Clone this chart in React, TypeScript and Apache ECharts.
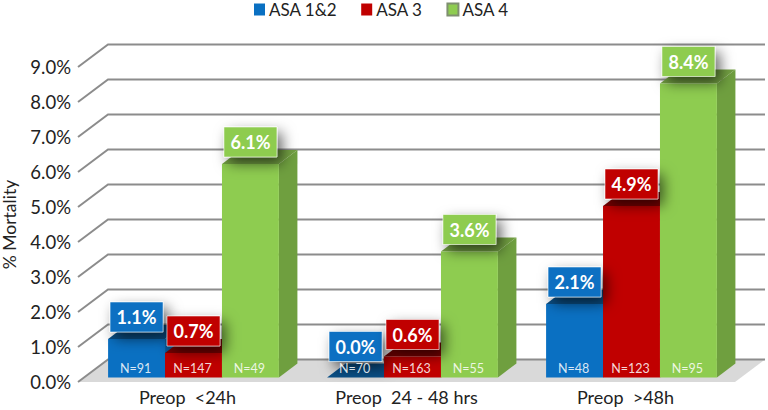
import React, { useEffect, useRef } from "react";
import * as echarts from "echarts";

const categories = ["Preop  <24h", "Preop  24 - 48 hrs", "Preop  >48h"];
const seriesNames = ["ASA 1&2", "ASA 3", "ASA 4"];
const asa12 = [1.1, 0.0, 2.1];
const asa3 = [0.7, 0.6, 4.9];
const asa4 = [6.1, 3.6, 8.4];
const n12 = [91, 70, 48];
const n3 = [147, 163, 123];
const n4 = [49, 55, 95];
const yTicks = [0, 1, 2, 3, 4, 5, 6, 7, 8, 9];

const FONT = "Lato, Carlito, 'Open Sans', sans-serif";
const palette = [
  { front: "#0a70c2", side: "#085a9c", top: "#0a4f86" },
  { front: "#c00000", side: "#9a0000", top: "#7a0000" },
  { front: "#8ecc50", side: "#6f9f3f", top: "#729f42" },
];

function barRenderer(idx: number) {
  const c = palette[idx];
  return (params: any, api: any) => {
    const cat = api.value(0);
    const val = api.value(1);
    const n = api.value(2);
    const base = api.coord([cat, 0]);
    const top = api.coord([cat, val]);
    const band = api.size([1, 0])[0];
    const w = band * 0.26;
    const dx = 18.5;
    const dy = 14;
    const lift = 4.5;
    const x0 = base[0] + 6 + (idx - 1.5) * w;
    const x1 = x0 + w;
    const yb = base[1] - lift;
    const yt = top[1] - lift;
    const boxW = 53;
    const boxH = 30;
    const cx = x0 + w / 2;
    const cy = Math.min(yt - 22, yb - 31);
    const txt = (val as number).toFixed(1) + "%";
    const pct = (val as number) > 0;
    const children: any[] = [];
    if (pct) {
      children.push({
        type: "polygon",
        shape: { points: [[x1, yb], [x1 + dx, yb - dy], [x1 + dx, yt - dy], [x1, yt]] },
        style: { fill: c.side },
      });
    }
    children.push({
      type: "polygon",
      shape: { points: [[x0, yt], [x0 + dx, yt - dy], [x1 + dx, yt - dy], [x1, yt]] },
      style: { fill: c.top },
    });
    if (pct) {
      children.push({
        type: "rect",
        shape: { x: x0, y: yt, width: w, height: yb - yt },
        style: { fill: c.front },
      });
    }
    children.push({
      type: "text",
      x: cx - 1,
      y: yb - 9,
      z2: 70,
      style: {
        text: "N=" + n,
        fill: "rgba(255,255,255,0.85)",
        font: "12.5px " + FONT,
        align: "center",
        verticalAlign: "middle",
      },
    });
    children.push({
      type: "rect",
      z2: 50 + idx,
      shape: { x: cx - boxW / 2, y: cy - boxH / 2, width: boxW, height: boxH },
      style: {
        fill: c.front,
        stroke: "rgba(255,255,255,0.55)",
        lineWidth: 1,
        shadowBlur: 14,
        shadowOffsetX: 5,
        shadowOffsetY: 6,
        shadowColor: "rgba(0,0,0,0.6)",
      },
    });
    children.push({
      type: "text",
      x: cx,
      y: cy,
      z2: 60 + idx,
      style: {
        text: txt,
        fill: "#ffffff",
        font: "bold 18px " + FONT,
        align: "center",
        verticalAlign: "middle",
      },
    });
    return { type: "group", children };
  };
}

function wallRenderer(params: any, api: any) {
  const v = api.value(1);
  const p = api.coord([0, v]);
  const cs = params.coordSys;
  const x0 = cs.x;
  const x1 = cs.x + cs.width;
  const y = p[1];
  const dx = 30;
  const dy = 22.5;
  const kids: any[] = [];
  if (v === 0) {
    kids.push({
      type: "polygon",
      shape: { points: [[x0, y], [x0 + dx, y - dy], [x1 + dx, y - dy], [x1, y]] },
      style: { fill: "#d9d9d9" },
    });
  }
  kids.push({
    type: "polyline",
    shape: { points: [[x0, y], [x0 + dx, y - dy], [x1 + dx, y - dy]] },
    style: { stroke: "#8c8c8c", lineWidth: 2, fill: "none" },
  });
  return { type: "group", children: kids };
}

export default function App() {
  const ref = useRef<HTMLDivElement>(null);
  useEffect(() => {
    const chart = echarts.init(ref.current!, undefined, { renderer: "svg" });
    const rows = (vals: number[], ns: number[]) => vals.map((v, i) => [i, v, ns[i]]);
    chart.setOption({
      animation: false,
      backgroundColor: "#ffffff",
      grid: { left: 78, right: 33, top: 67, bottom: 28, containLabel: false, outerBoundsMode: "none" },
      legend: {
        data: seriesNames,
        left: 249,
        top: -4,
        itemWidth: 11,
        itemHeight: 12,
        itemGap: 24,
        icon: "rect",
        textStyle: { fontFamily: FONT, fontSize: 17, color: "#222", padding: [0, 0, 0, -1] },
      },
      xAxis: {
        type: "category",
        data: categories,
        axisLine: { show: false },
        axisTick: { show: false },
        splitLine: { show: false },
        axisLabel: { fontFamily: FONT, fontSize: 18, color: "#222", margin: 6 },
      },
      yAxis: {
        type: "value",
        min: 0,
        max: 9,
        interval: 1,
        name: "% Mortality",
        nameLocation: "middle",
        nameGap: 60,
        nameTextStyle: { fontFamily: FONT, fontSize: 17.5, color: "#222" },
        axisLine: { show: false },
        axisTick: { show: false },
        splitLine: { show: false },
        axisLabel: {
          fontFamily: FONT,
          fontSize: 18.5,
          color: "#222",
          margin: 7,
          formatter: (v: number) => v.toFixed(1) + "%",
        },
      },
      series: [
        {
          type: "custom",
          name: "walls",
          renderItem: wallRenderer,
          data: yTicks.map((v) => [0, v]),
          encode: { x: 0, y: 1 },
          silent: true,
        },
        ...[
          rows(asa12, n12),
          rows(asa3, n3),
          rows(asa4, n4),
        ].map((data, i) => ({
          type: "custom",
          name: seriesNames[i],
          renderItem: barRenderer(i),
          data,
          encode: { x: 0, y: 1 },
          itemStyle: {
            color: palette[i].front,
            borderColor: i === 2 ? "#7f8f70" : palette[i].front,
            borderWidth: i === 2 ? 1 : 0,
          },
        })),
      ],
    });
    return () => chart.dispose();
  }, []);
  return (
    <div
      ref={ref}
      style={{ position: "fixed", left: 0, top: 0, width: 768, height: 410 }}
    />
  );
}
